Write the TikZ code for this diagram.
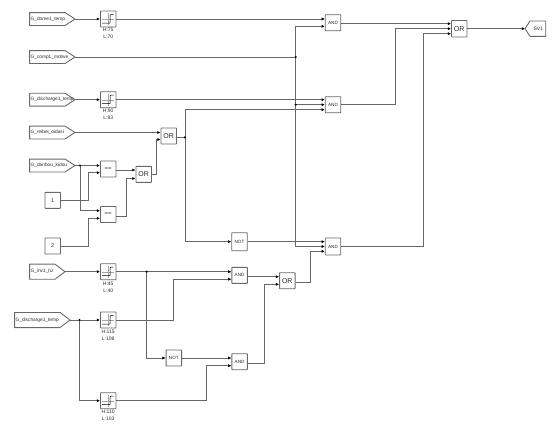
\documentclass[tikz,border=0pt]{standalone}
\usepackage{fontspec}
\setmainfont{Liberation Sans}
\usetikzlibrary{arrows.meta,backgrounds}
\definecolor{wirec}{HTML}{686868}
\definecolor{textc}{HTML}{2A2A2A}
\tikzset{
  wire/.style={draw=wirec,line width=0.85pt,-{Latex[length=3.2pt,width=3.2pt,black]}},
  plain/.style={draw=wirec,line width=0.85pt},
  outline/.style={draw=wirec,line width=0.9pt,fill=white,line join=round},
  blockbox/.style={draw=wirec,line width=0.9pt,fill=white,rounded corners=0.5pt,minimum width=15.5pt,minimum height=16pt,inner sep=0pt,text=textc,font=\fontsize{4.6}{5}\selectfont},
  orbox/.style={blockbox,font=\fontsize{7}{8}\selectfont},
  eqbox/.style={blockbox,font=\fontsize{6}{6}\selectfont},
  constbox/.style={blockbox,font=\fontsize{5.5}{6}\selectfont},
  relaybox/.style={blockbox,path picture={
    \draw[gray!70,line width=0.35pt] ([xshift=-6pt]path picture bounding box.center) -- ([xshift=6pt]path picture bounding box.center);
    \draw[gray!70,line width=0.35pt] ([yshift=-6pt]path picture bounding box.center) -- ([yshift=6pt]path picture bounding box.center);
    \draw[black,line width=0.5pt] ([shift={(-6pt,-4pt)}]path picture bounding box.center) -- ([shift={(2pt,-4pt)}]path picture bounding box.center) -- ([shift={(2pt,4.5pt)}]path picture bounding box.center) -- ([shift={(5.5pt,4.5pt)}]path picture bounding box.center);
  }},
  srcsig/.style={minimum height=#1,inner xsep=0.8pt,inner ysep=0pt,text=textc,font=\fontsize{4.8}{6}\selectfont,align=left,anchor=east},
  destsig/.style={minimum height=15pt,minimum width=20.3pt,inner sep=0pt,text=textc,font=\fontsize{5}{6}\selectfont,anchor=west},
  lim/.style={font=\fontsize{5}{6}\selectfont,text=textc,inner sep=0pt,align=center,anchor=north},
  dot/.style={circle,fill=black,inner sep=0pt,minimum size=2.4pt}
}
\newcommand\srcshape[1]{\draw[outline] (#1.north west) -- ([xshift=-10pt]#1.north east) -- (#1.east) -- ([xshift=-10pt]#1.south east) -- (#1.south west) -- cycle;}
\begin{document}
\begin{tikzpicture}[x=1pt,y=-1pt]
\useasboundingbox (0,0) rectangle (560,434);
% source signals: text nodes, outline on the background layer
\node[srcsig=12.5pt,text width=43.4pt] (dome) at (75,19) {G\_dome1\_temp};
\node[srcsig=12.5pt,text width=43.4pt] (comp) at (75,57) {G\_comp1\_motive};
\node[srcsig=12.5pt,text width=43.4pt] (disa) at (75,99.7) {G\_discharge1\_temp};
\node[srcsig=12.5pt,text width=43.4pt] (reib) at (75,132.5) {G\_reibei\_oidasi};
\node[srcsig=12.5pt,text width=43.4pt] (danb) at (75,165.5) {G\_danbou\_kidou};
\node[srcsig=14.7pt,text width=33.4pt] (inv) at (65,271.7) {G\_inv1\_hz};
\node[srcsig=14.7pt,text width=53.4pt] (disb) at (70,320) {G\_discharge1\_temp};
\node[destsig] (sv) at (525,28.7) {\hspace{6pt}SV1};
\begin{pgfonlayer}{background}
\srcshape{dome}\srcshape{comp}\srcshape{disa}\srcshape{reib}\srcshape{danb}\srcshape{inv}\srcshape{disb}
\draw[outline] (sv.west) -- ([xshift=5pt]sv.north west) -- (sv.north east) -- (sv.south east) -- ([xshift=5pt]sv.south west) -- cycle;
\end{pgfonlayer}
\node[constbox] (c1) at (52.7,200.3) {1};
\node[constbox] (c2) at (52.7,246) {2};
% relays
\node[relaybox] (r1) at (108.2,19) {};
\node[relaybox] (r2) at (108.2,99.7) {};
\node[relaybox] (r3) at (108.2,271.7) {};
\node[relaybox] (r4) at (108.2,320) {};
\node[relaybox] (r5) at (108.2,400.7) {};
\node[lim] (l1) at (108.2,28) {H:75\\[1pt]L:70};
\node[lim] (l2) at (108.2,109) {H:90\\[1pt]L:83};
\node[lim] (l3) at (108.2,281.5) {H:45\\[1pt]L:40};
\node[lim] (l4) at (108.2,329.5) {H:115\\[1pt]L:108};
\node[lim] (l5) at (108.2,410) {H:110\\[1pt]L:103};
% comparators and logic
\node[eqbox] (e1) at (108.2,169) {==};
\node[eqbox] (e2) at (108.2,214.5) {==};
\node[orbox] (o2) at (143.7,174.3) {OR};
\node[orbox] (o1) at (168.7,136) {OR};
\node[orbox] (o3) at (287.3,280.7) {OR};
\node[orbox,minimum height=16.5pt] (of) at (459.2,28.7) {OR};
\node[blockbox] (a1) at (333,22.7) {AND};
\node[blockbox] (a2) at (333,104.7) {AND};
\node[blockbox,minimum height=17pt] (a3) at (333,246.5) {AND};
\node[blockbox] (a4) at (239.6,275.4) {AND};
\node[blockbox] (a5) at (239.6,361.7) {AND};
\node[blockbox,minimum height=18pt] (n1) at (239.5,241.7) {NOT};
\node[blockbox] (n2) at (173.8,358) {NOT};
% junction positions
\coordinate (jc) at (295.7,57);
\coordinate (jd) at (295.7,104.7);
\coordinate (jo) at (185,137.3);
\coordinate (jb) at (80,165.5);
\coordinate (ji) at (146.7,271.7);
\coordinate (jg) at (79.5,320);
% wires
\draw[wire] (dome.east) -- (r1.west);
\draw[wire] (r1.east) -- ([yshift=3.7pt]a1.west);
\draw[plain] (comp.east) -- (jc);
\draw[wire] (jc) -- (295.7,26.3) -- ([yshift=-3.6pt]a1.west);
\draw[wire] (disa.east) -- (r2.west);
\draw[wire] (r2.east) -- ([yshift=5pt]a2.west);
\draw[wire] (jd) -- (a2.west);
\draw[plain] (jc) -- (jd);
\draw[wire] (jd) -- (295.7,246.5) -- (a3.west);
\draw[wire] ([yshift=-1pt]a1.east) -- ([yshift=5pt]of.west);
\draw[wire] (a2.east) -- (395.7,104.7) -- (395.7,28.7) -- (of.west);
\draw[wire] (a3.east) -- (423.7,246.5) -- (423.7,33.7) -- ([yshift=-5pt]of.west);
\draw[wire] (of.east) -- (sv.west);
\draw[wire] (reib.east) -- ([yshift=3.5pt]o1.west);
\draw[plain] (o1.east |- jo) -- (jo);
\draw[wire] (jo) -- (185,109.7) -- ([yshift=-5pt]a2.west);
\draw[wire] (jo) -- (185,241.7) -- (n1.west);
\draw[wire] (n1.east) -- ([yshift=4.8pt]a3.west);
\draw[wire] (danb.east) -- ([yshift=3.5pt]e1.west);
\draw[wire] (jb) -- (80,210.7) -- ([yshift=3.8pt]e2.west);
\draw[wire] (c1.east) -- (88,200.3) -- (88,172.7) -- ([yshift=-3.7pt]e1.west);
\draw[wire] (c2.east) -- (88,246) -- (88,218.3) -- ([yshift=-3.8pt]e2.west);
\draw[wire] ([yshift=-1pt]e1.east) -- ([yshift=4.3pt]o2.west);
\draw[wire] ([yshift=-1.5pt]e2.east) -- (126,216) -- (126,178.5) -- ([yshift=-4.2pt]o2.west);
\draw[wire] (o2.east) -- (156,174.3) -- (156,139.5) -- ([yshift=-3.5pt]o1.west);
\draw[wire] (inv.east) -- (r3.west);
\draw[wire] (r3.east) -- ([yshift=3.7pt]a4.west);
\draw[wire] (disb.east) -- (r4.west);
\draw[wire] (r4.east) -- (173,320) -- (173,279.2) -- ([yshift=-3.8pt]a4.west);
\draw[wire] (jg) -- (79.5,400.7) -- (r5.west);
\draw[wire] (ji) -- (146.7,358) -- (n2.west);
\draw[wire] (n2.east) -- ([yshift=3.7pt]a5.west);
\draw[wire] (r5.east) -- (206.7,400.7) -- (206.7,365.7) -- ([yshift=-4pt]a5.west);
\draw[wire] ([yshift=-1.3pt]a4.east) -- ([yshift=4pt]o3.west);
\draw[wire] ([yshift=-1.3pt]a5.east) -- (264,363) -- (264,284.3) -- ([yshift=-3.6pt]o3.west);
\draw[wire] ([yshift=-1.3pt]o3.east) -- (310.7,282) -- (310.7,251.3) -- ([yshift=-4.8pt]a3.west);
% junction dots
\foreach \j in {jc,jd,jo,jb,ji,jg} \node[dot] (dot\j) at (\j) {};
\end{tikzpicture}
\end{document}
